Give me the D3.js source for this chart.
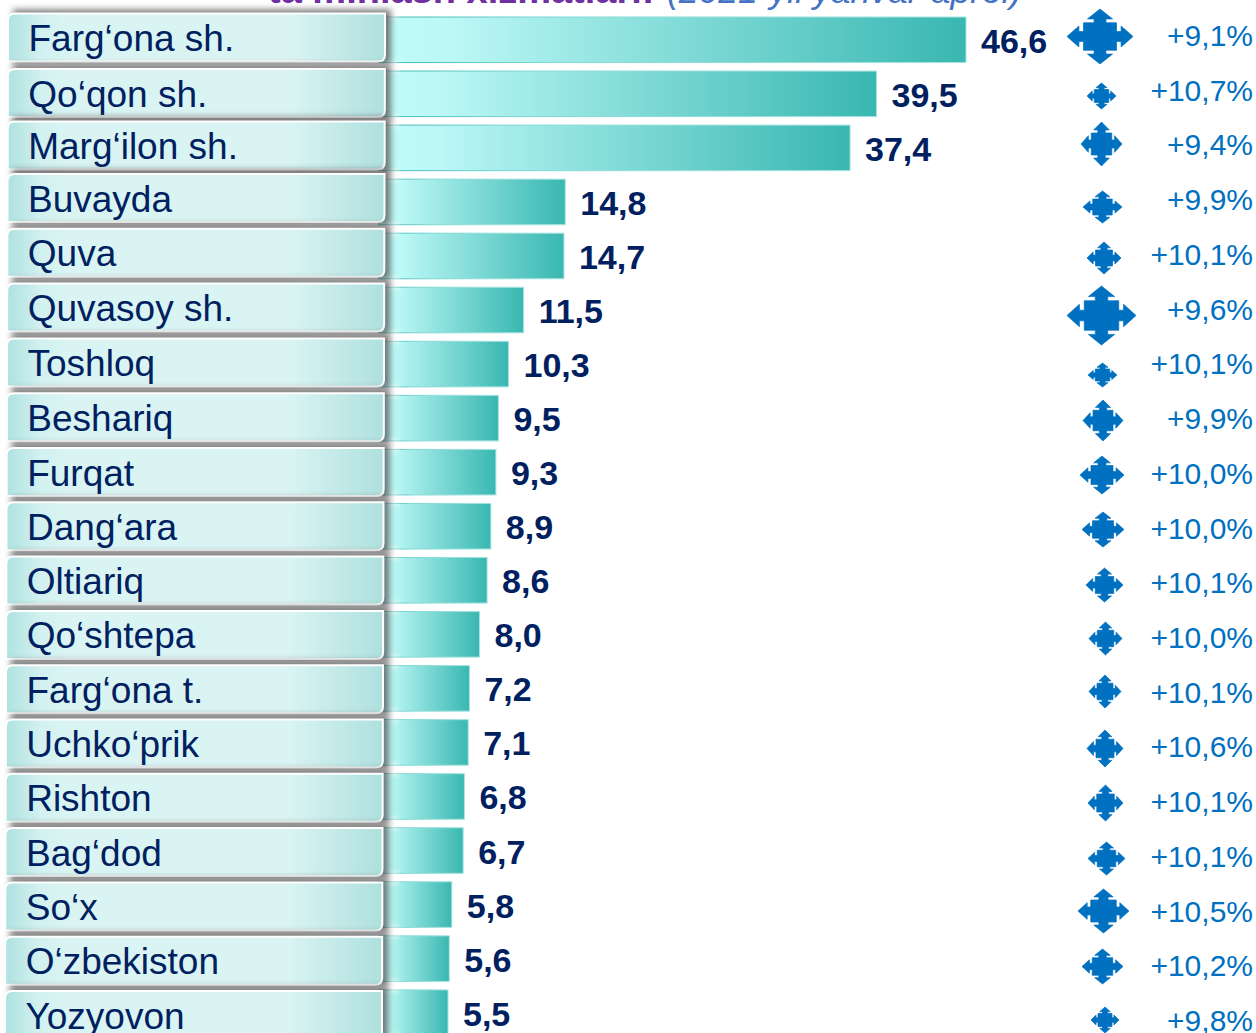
<!DOCTYPE html>
<html>
<head>
<meta charset="utf-8">
<title>Farg‘ona</title>
<script src="https://cdn.jsdelivr.net/npm/d3@7"></script>
<style>
  html, body { margin: 0; padding: 0; background: #fff; overflow: hidden; }
  text { font-family: "Liberation Sans", Arial, sans-serif; }
</style>
</head>
<body>
<div id="container"></div>
<script>
/* ---------- DATA ---------- */
const districts = ["Farg‘ona sh.", "Qo‘qon sh.", "Marg‘ilon sh.", "Buvayda", "Quva", "Quvasoy sh.", "Toshloq", "Beshariq", "Furqat", "Dang‘ara", "Oltiariq", "Qo‘shtepa", "Farg‘ona t.", "Uchko‘prik", "Rishton", "Bag‘dod", "So‘x", "O‘zbekiston", "Yozyovon"];
const values = [46.6, 39.5, 37.4, 14.8, 14.7, 11.5, 10.3, 9.5, 9.3, 8.9, 8.6, 8.0, 7.2, 7.1, 6.8, 6.7, 5.8, 5.6, 5.5];
const growth = [9.1, 10.7, 9.4, 9.9, 10.1, 9.6, 10.1, 9.9, 10.0, 10.0, 10.1, 10.0, 10.1, 10.6, 10.1, 10.1, 10.5, 10.2, 9.8];

// decoration only: the arrow icons are placed by hand in the source slide [cx, cy, w, h]
const iconBoxes = [[1100, 36.5, 66, 55], [1101.5, 96, 29, 26], [1101.5, 144, 41, 44], [1102.5, 207, 39, 32], [1104, 258, 34, 32], [1101.5, 315.5, 69, 59], [1102.5, 375, 29, 24], [1103, 420.5, 40, 41], [1102, 475, 44, 38], [1103, 529.5, 42, 35], [1104.5, 585, 37, 34], [1105.5, 638.5, 33, 33], [1105, 691.5, 32, 33], [1105, 748.5, 36, 37], [1105.5, 803, 35, 36], [1106.5, 858.5, 37, 33], [1103.5, 911, 51, 44], [1102.5, 966.5, 41, 35], [1105, 1020, 28, 26]];

/* ---------- CONSTANTS ---------- */
const width = 1256, height = 1033;
const navy = "#002060", blue = "#0070c0";
const rows = d3.range(districts.length);

const xScale = d3.scaleLinear().domain([0, 46.6]).range([378.7, 966]);
const yScale = d3.scaleBand().domain(rows).range([17, 17 + 54.05 * rows.length - 8.5]).paddingInner(0.157);
// label boxes drift a little from the bars, as on the slide
const boxCenter = d3.scaleLinear().domain([0, 1, 3, 8, 18]).range([37.5, 93, 198, 472, 1015]);
const boxLeft = d3.scaleLinear().domain([0, 18]).range([8, 5]);
const fmt = d3.formatLocale({ decimal: ",", thousands: " ", grouping: [3], currency: ["", ""] });
const valueText = fmt.format(".1f"), growthText = fmt.format("+.1f");

const svg = d3.select("#container").append("svg")
  .attr("width", width).attr("height", height)
  .style("display", "block");

/* ---------- DEFS ---------- */
const defs = svg.append("defs");
function gradient(id, stops) {
  defs.append("linearGradient").attr("id", id)
    .selectAll("stop").data(stops).join("stop")
    .attr("offset", d => d[0]).attr("stop-color", d => d[1]);
}
gradient("barFill", [[0, "#bffbf9"], [0.12, "#bcf8f6"], [1, "#39b7b1"]]);
gradient("barEdge", [[0, "#39b7b1"], [0.3, "#7fd8d3"], [1, "#a8e4e1"]]);
gradient("boxFill", [[0, "#aee2e0"], [0.09, "#d2f1f0"], [0.16, "#d9f4f3"], [0.75, "#d9f4f3"], [1, "#aee0de"]]);
defs.append("filter").attr("id", "shadow").attr("x", "-5%").attr("y", "-40%").attr("width", "110%").attr("height", "180%")
  .append("feGaussianBlur").attr("stdDeviation", 3);
defs.append("filter").attr("id", "glow").attr("x", "-30%").attr("y", "-200%").attr("width", "160%").attr("height", "500%")
  .append("feGaussianBlur").attr("stdDeviation", 2.5);

/* ---------- TITLE (cut by the top of the page) ---------- */
svg.append("text").attr("x", 268).attr("y", 3).attr("font-size", 38)
  .attr("font-weight", "bold").attr("fill", "#7030a0").text("ta’minlash xizmatlari:");
svg.append("text").attr("x", 667).attr("y", 3).attr("font-size", 35.5)
  .attr("font-style", "italic").attr("fill", "#4472c4").text("(2021-yil yanvar-aprel)");

/* ---------- BARS ---------- */
svg.selectAll("rect.bar").data(rows).join("rect")
  .attr("class", "bar")
  .attr("x", xScale(0))
  .attr("y", i => yScale(i))
  .attr("width", i => xScale(values[i]) - xScale(0))
  .attr("height", yScale.bandwidth())
  .attr("fill", "url(#barFill)")
  .attr("stroke", "url(#barEdge)");

// white smear the box reflection leaves on the bar edges
const smear = svg.append("g").attr("filter", "url(#glow)").attr("fill", "#fff");
rows.forEach(i => {
  smear.append("rect").attr("x", xScale(0) + 8).attr("y", yScale(i) - 2).attr("width", 12).attr("height", 3);
  smear.append("rect").attr("x", xScale(0) + 8).attr("y", yScale(i) + yScale.bandwidth() - 1).attr("width", 12).attr("height", 3);
});

/* ---------- LABEL BOXES ---------- */
function boxPath(x, y, w, h) {
  const r = 7;
  const p = d3.path();
  p.moveTo(x + r, y);
  p.lineTo(x + w, y);
  p.lineTo(x + w, y + h - r);
  p.quadraticCurveTo(x + w, y + h, x + w - r, y + h);
  p.lineTo(x, y + h);
  p.lineTo(x, y + r);
  p.quadraticCurveTo(x, y, x + r, y);
  p.closePath();
  return p.toString();
}
const boxW = 377, boxH = 48;
const boxes = svg.selectAll("g.box").data(rows).join("g").attr("class", "box");
boxes.append("rect")
  .attr("x", i => boxLeft(i) + 5)
  .attr("y", i => boxCenter(i) - boxH / 2 - 4)
  .attr("width", boxW + 1)
  .attr("height", boxH + 6)
  .attr("fill", "#4d4d4d")
  .attr("opacity", 0.75)
  .attr("filter", "url(#shadow)");
boxes.append("path")
  .attr("d", i => boxPath(boxLeft(i), boxCenter(i) - boxH / 2, boxW, boxH))
  .attr("fill", "url(#boxFill)")
  .attr("stroke", "#fff")
  .attr("stroke-width", 2);
boxes.append("text")
  .attr("x", i => boxLeft(i) + 20.5)
  .attr("y", i => boxCenter(i) + 13.5)
  .attr("font-size", 37)
  .attr("fill", navy)
  .text(i => districts[i]);

/* ---------- VALUE LABELS ---------- */
svg.selectAll("text.value").data(rows).join("text")
  .attr("class", "value")
  .attr("x", i => xScale(values[i]) + 15)
  .attr("y", i => yScale(i) + yScale.bandwidth() / 2 + 13)
  .attr("font-size", 34)
  .attr("font-weight", "bold")
  .attr("fill", navy)
  .text(i => valueText(values[i]));

/* ---------- ARROW ICONS ---------- */
const arrowShape = d3.range(4).flatMap(q => {
  const a = q * Math.PI / 2, c = Math.cos(a), s = Math.sin(a);
  const pts = [[-0.09, -0.25], [-0.09, -0.32], [-0.19, -0.32], [0, -0.5], [0.19, -0.32], [0.09, -0.32], [0.09, -0.25], [0.25, -0.25]];
  return pts.map(([x, y]) => [x * c - y * s, x * s + y * c]);
});
const arrowPath = d3.line()(arrowShape) + "Z";
svg.selectAll("path.icon").data(iconBoxes).join("path")
  .attr("class", "icon")
  .attr("d", arrowPath)
  .attr("transform", d => `translate(${d[0]},${d[1]}) scale(${d[2]},${d[3]})`)
  .attr("fill", blue)
  .attr("stroke", blue)
  .attr("stroke-width", 0.7)
  .attr("vector-effect", "non-scaling-stroke");

/* ---------- GROWTH LABELS ---------- */
const growthY = d3.scaleLinear().domain([0, 18]).range([46, 1031]);
svg.selectAll("text.growth").data(rows).join("text")
  .attr("class", "growth")
  .attr("x", 1253)
  .attr("y", i => growthY(i))
  .attr("text-anchor", "end")
  .attr("font-size", 30)
  .attr("fill", blue)
  .text(i => growthText(growth[i]) + "%");
</script>
</body>
</html>
